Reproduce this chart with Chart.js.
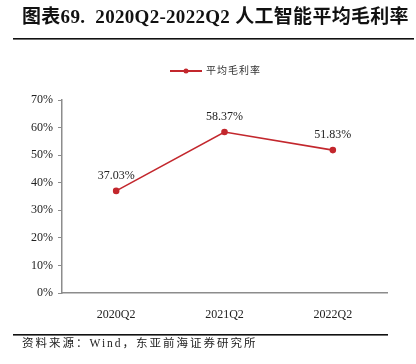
<!DOCTYPE html>
<html>
<head>
<meta charset="utf-8">
<script src="https://cdn.jsdelivr.net/npm/chart.js@4/dist/chart.umd.min.js"></script>
<style>
    html, body { margin: 0; padding: 0; background: #fff; }
    #wrap { position: relative; width: 416px; height: 364px; }
</style>
</head>
<body>
<div id="wrap"><canvas id="margin-chart" width="416" height="364"></canvas></div>
<script>
// 数据
const categories = ['2020Q2', '2021Q2', '2022Q2'];
const marginValues = [37.03, 58.37, 51.83];
const yTicks = [0, 10, 20, 30, 40, 50, 60, 70];

const seriesName = '平均毛利率';
const titleText = '图表69.  2020Q2-2022Q2 人工智能平均毛利率';
const sourceText = '资料来源：Wind，东亚前海证券研究所';

const RED = '#c3272d';
const AXIS = '#8c8c8c';
const SERIF = '"Liberation Serif", "Times New Roman", "Noto Sans CJK SC", serif';

// 标题、图例、数据标签、资料来源
const decorPlugin = {
    id: 'decor',
    afterDraw(chart) {
        const ctx = chart.ctx;
        ctx.save();

        // 标题
        ctx.fillStyle = '#111';
        ctx.font = 'bold 19px ' + SERIF;
        ctx.textBaseline = 'middle';
        ctx.textAlign = 'left';
        ctx.letterSpacing = '0.3px';
        ctx.fillText(titleText, 22, 18);
        ctx.letterSpacing = '0px';
        ctx.fillRect(13, 38, 401, 1.6);

        // 图例
        ctx.strokeStyle = RED;
        ctx.lineWidth = 2;
        ctx.beginPath();
        ctx.moveTo(170, 71);
        ctx.lineTo(202, 71);
        ctx.stroke();
        ctx.fillStyle = RED;
        ctx.beginPath();
        ctx.arc(186, 71, 2.5, 0, Math.PI * 2);
        ctx.fill();
        ctx.fillStyle = '#333';
        ctx.font = '10px ' + SERIF;
        ctx.letterSpacing = '1px';
        ctx.fillText(seriesName, 206, 71);
        ctx.letterSpacing = '0px';

        // 数据标签
        const meta = chart.getDatasetMeta(0);
        ctx.font = '12px ' + SERIF;
        ctx.textAlign = 'center';
        ctx.fillStyle = '#222';
        meta.data.forEach((pt, i) => {
            ctx.fillText(marginValues[i].toFixed(2) + '%', pt.x, pt.y - 15);
        });

        // 资料来源
        ctx.fillStyle = '#111';
        ctx.fillRect(13, 334, 375, 1.6);
        ctx.textAlign = 'left';
        ctx.font = '11.5px ' + SERIF;
        ctx.letterSpacing = '2px';
        ctx.fillStyle = '#222';
        ctx.fillText(sourceText, 22, 344);
        ctx.restore();
    }
};

new Chart(document.getElementById('margin-chart'), {
    type: 'line',
    data: {
        labels: categories,
        datasets: [{
            label: seriesName,
            data: marginValues,
            borderColor: RED,
            backgroundColor: RED,
            borderWidth: 1.6,
            pointRadius: 2.5,
            pointHoverRadius: 2.5,
            tension: 0
        }]
    },
    options: {
        responsive: false,
        animation: false,
        layout: {
            padding: { top: 100, left: 0, right: 29, bottom: 0 }
        },
        plugins: {
            legend: { display: false },
            tooltip: { enabled: false }
        },
        scales: {
            x: {
                offset: true,
                afterFit(scale) { scale.height = 71; },
                grid: { display: false },
                border: { display: true, color: AXIS, width: 1.5 },
                ticks: {
                    padding: 7,
                    color: '#222',
                    font: { family: SERIF, size: 12 }
                }
            },
            y: {
                min: 0,
                max: 70,
                afterFit(scale) { scale.width = 62; },
                afterBuildTicks(scale) {
                    scale.ticks = yTicks.map(v => ({ value: v }));
                },
                grid: {
                    drawOnChartArea: false,
                    drawTicks: true,
                    tickLength: 4,
                    color: AXIS
                },
                border: { display: true, color: AXIS, width: 1.5 },
                ticks: {
                    padding: 5,
                    color: '#222',
                    font: { family: SERIF, size: 12 },
                    callback: v => v + '%'
                }
            }
        }
    },
    plugins: [decorPlugin]
});
</script>
</body>
</html>
